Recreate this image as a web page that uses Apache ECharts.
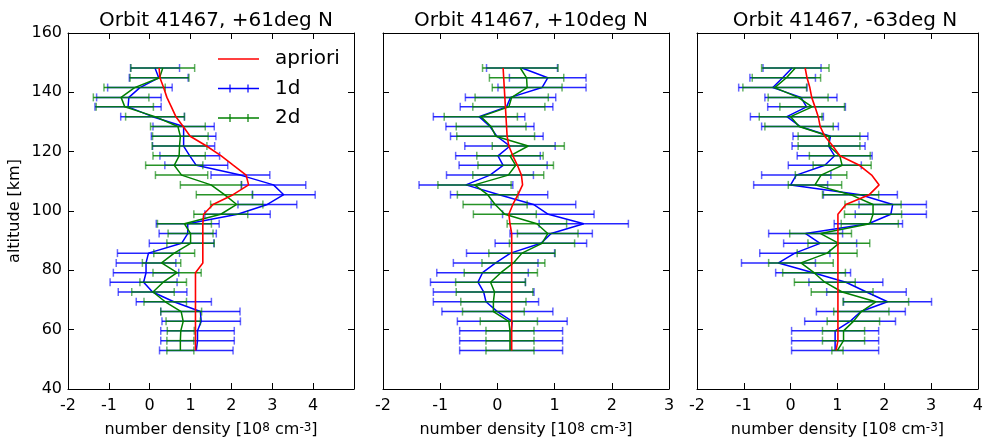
<!DOCTYPE html>
<html>
<head>
<meta charset="utf-8">
<script src="https://cdn.jsdelivr.net/npm/echarts@6/dist/echarts.min.js"></script>
<style>
html,body{margin:0;padding:0;background:#fff;}
#chart{width:986px;height:443px;}
</style>
</head>
<body>
<div id="chart"></div>
<script>
// Altitudes [km], bottom to top
const ALT = [53.0, 56.3, 59.6, 62.8, 66.1, 69.4, 72.7, 76.0, 79.2, 82.5, 85.8, 89.1, 92.4, 95.7, 98.9,
             102.2, 105.5, 108.8, 112.1, 115.4, 118.6, 121.9, 125.2, 128.5, 131.8, 135.1, 138.3, 141.6, 144.9, 148.2];

const TITLES = ['Orbit 41467, +61deg N', 'Orbit 41467, +10deg N', 'Orbit 41467, -63deg N'];
const X_MIN = [-2, -2, -2];
const X_MAX = [5, 3, 4];
const Y_TICKS = [40, 60, 80, 100, 120, 140, 160];
const LEGEND_NAMES = ['apriori', '1d', '2d'];

// Panel 1 (+61deg N)
const P1_APRIORI = [1.12, 1.12, 1.12, 1.12, 1.12, 1.12, 1.12, 1.12, 1.12, 1.3, 1.3, 1.3, 1.3, 1.3, 1.32,
                    1.55, 2.04, 2.42, 2.36, 2.05, 1.75, 1.39, 0.99, 0.82, 0.64, 0.53, 0.42, 0.34, 0.25, 0.23];
const P1_1D = [1.14, 1.17, 1.17, 1.26, 1.24, 0.59, 0.07, -0.15, -0.09, -0.09, -0.03, 0.78, 0.93, 0.93, 2.15,
               2.88, 3.28, 3.03, 2.22, 1.14, 0.98, 0.83, 0.83, 0.83, 0.07, -0.53, -0.51, -0.24, 0.22, 0.13];
const P1_1D_ERR = [0.9, 0.9, 0.9, 0.96, 0.97, 0.92, 0.84, 0.82, 0.8, 0.73, 0.76, 0.79, 0.7, 0.77, 0.8,
                   0.72, 0.77, 0.79, 0.72, 0.77, 0.73, 0.76, 0.79, 0.75, 0.78, 0.81, 0.79, 0.79, 0.72, 0.6];
const P1_2D = [0.75, 0.75, 0.76, 0.82, 0.77, 0.38, 0.08, 0.33, 0.67, 0.29, 0.6, 1.0, 1.0, 0.85, 1.74,
               2.13, 1.83, 1.5, 0.78, 0.6, 0.72, 0.73, 0.75, 0.69, 0.13, -0.61, -0.70, -0.37, 0.24, 0.32];
const P1_2D_ERR = [0.33, 0.33, 0.33, 0.42, 0.5, 0.52, 0.52, 0.57, 0.59, 0.47, 0.5, 0.58, 0.55, 0.66, 0.66,
                   0.64, 0.69, 0.75, 0.64, 0.7, 0.64, 0.67, 0.68, 0.67, 0.72, 0.7, 0.68, 0.75, 0.72, 0.78];

// Panel 2 (+10deg N)
const P2_APRIORI = [0.25, 0.25, 0.25, 0.25, 0.25, 0.25, 0.25, 0.25, 0.25, 0.25, 0.25, 0.25, 0.25, 0.22, 0.2,
                    0.27, 0.36, 0.44, 0.42, 0.35, 0.27, 0.2, 0.17, 0.16, 0.15, 0.14, 0.13, 0.12, 0.11, 0.1];
const P2_1D = [0.24, 0.24, 0.24, 0.26, 0.0, -0.2, -0.24, -0.34, -0.26, -0.03, 0.23, 0.76, 0.94, 1.51, 0.89,
               0.63, 0.03, -0.55, -0.13, 0.1, 0.01, 0.22, -0.01, -0.13, -0.32, 0.16, 0.23, 0.78, 0.88, 0.43];
const P2_1D_ERR = [0.9, 0.9, 0.9, 0.96, 0.97, 0.92, 0.88, 0.83, 0.8, 0.74, 0.77, 0.8, 0.72, 0.78, 0.8,
                   0.74, 0.85, 0.82, 0.76, 0.77, 0.74, 0.79, 0.81, 0.77, 0.8, 0.81, 0.79, 0.77, 0.67, 0.62];
const P2_2D = [0.22, 0.22, 0.22, 0.2, -0.07, -0.07, -0.05, -0.12, 0.06, 0.28, 0.43, 0.78, 0.88, 0.69, 0.13,
               -0.04, -0.17, -0.4, 0.19, 0.32, 0.22, 0.54, -0.03, -0.11, -0.29, 0.2, 0.25, 0.52, 0.51, 0.40];
const P2_2D_ERR = [0.42, 0.42, 0.42, 0.5, 0.54, 0.57, 0.67, 0.61, 0.64, 0.55, 0.58, 0.57, 0.53, 0.52, 0.55,
                   0.56, 0.53, 0.64, 0.62, 0.66, 0.58, 0.63, 0.68, 0.61, 0.64, 0.63, 0.64, 0.61, 0.65, 0.66];

// Panel 3 (-63deg N)
const P3_APRIORI = [0.97, 1.01, 1.01, 1.01, 1.01, 1.01, 1.01, 1.01, 1.01, 1.01, 1.01, 1.01, 1.01, 1.01, 1.01,
                    1.18, 1.68, 1.89, 1.73, 1.47, 1.05, 0.9, 0.73, 0.63, 0.59, 0.52, 0.45, 0.41, 0.35, 0.31];
const P3_1D = [0.95, 0.95, 0.95, 1.27, 1.5, 2.07, 1.62, 1.18, 0.48, -0.26, 0.09, 0.63, 0.32, 1.66, 2.14,
               2.18, 1.49, 0.0, 0.12, 0.73, 0.94, 0.81, 0.85, 0.2, -0.08, 0.34, 0.22, -0.38, -0.17, 0.03];
const P3_1D_ERR = [0.93, 0.93, 0.93, 0.97, 0.95, 0.94, 0.85, 0.79, 0.8, 0.79, 0.75, 0.78, 0.79, 0.73, 0.76,
                   0.72, 0.79, 0.79, 0.74, 0.78, 0.8, 0.78, 0.8, 0.82, 0.78, 0.83, 0.77, 0.73, 0.7, 0.62];
const P3_2D = [1.0, 1.13, 1.13, 1.34, 1.51, 1.82, 1.1, 0.73, 0.5, 0.22, 0.78, 1.03, 0.64, 1.69, 1.76,
               1.76, 1.28, 0.52, 0.65, 1.1, 1.05, 0.82, 0.82, 0.18, 0.0, 0.46, 0.16, -0.34, -0.09, 0.1];
const P3_2D_ERR = [0.12, 0.45, 0.45, 0.56, 0.59, 0.7, 0.66, 0.65, 0.67, 0.69, 0.64, 0.66, 0.66, 0.61, 0.61,
                   0.6, 0.6, 0.57, 0.55, 0.62, 0.65, 0.66, 0.66, 0.73, 0.67, 0.69, 0.64, 0.68, 0.73, 0.72];

const PANELS = [
  {apriori: P1_APRIORI, d1: P1_1D, d1e: P1_1D_ERR, d2: P1_2D, d2e: P1_2D_ERR},
  {apriori: P2_APRIORI, d1: P2_1D, d1e: P2_1D_ERR, d2: P2_2D, d2e: P2_2D_ERR},
  {apriori: P3_APRIORI, d1: P3_1D, d1e: P3_1D_ERR, d2: P3_2D, d2e: P3_2D_ERR}
];

const RED = '#ff0000', BLUE = '#0000ff', GREEN = '#008000';
const FONT = 'DejaVu Sans';
const GRID_LEFT = [68, 383, 697];
const GRID_W = 286, GRID_TOP = 33, GRID_H = 360;

function errRender(color) {
  return function (params, api) {
    const lo = api.coord([api.value(0), api.value(2)]);
    const hi = api.coord([api.value(1), api.value(2)]);
    const h = 4;
    return {
      type: 'group',
      children: [
        {type: 'line', shape: {x1: lo[0], y1: lo[1], x2: hi[0], y2: hi[1]},
         style: {stroke: color, lineWidth: 1.5, opacity: 0.85}},
        {type: 'line', shape: {x1: lo[0], y1: lo[1] - h, x2: lo[0], y2: lo[1] + h},
         style: {stroke: color, lineWidth: 1.5, opacity: 0.6}},
        {type: 'line', shape: {x1: hi[0], y1: hi[1] - h, x2: hi[0], y2: hi[1] + h},
         style: {stroke: color, lineWidth: 1.5, opacity: 0.6}}
      ]
    };
  };
}

const grids = [], xAxes = [], yAxes = [], series = [], titles = [];
PANELS.forEach((p, i) => {
  grids.push({left: GRID_LEFT[i], top: GRID_TOP, width: GRID_W, height: GRID_H, show: false});
  titles.push({
    text: TITLES[i], left: GRID_LEFT[i] + GRID_W / 2, top: 6, textAlign: 'center',
    textStyle: {fontFamily: FONT, fontSize: 20, fontWeight: 'normal', color: '#000'}
  });
  const axLine = {show: true, onZero: false, lineStyle: {color: '#000', width: 1}};
  const tick = {show: true, inside: true, length: 6, lineStyle: {color: '#000', width: 1}};
  xAxes.push({
    type: 'value', gridIndex: i, position: 'bottom', min: X_MIN[i], max: X_MAX[i], interval: 1,
    axisLine: axLine, axisTick: tick, splitLine: {show: false},
    axisLabel: {show: true, margin: 9, color: '#000', fontFamily: FONT, fontSize: 16,
                formatter: v => (i === 0 && v === 5) ? '' : String(v)},
    name: 'number density [10{sup|8} cm{sup|-3}]', nameLocation: 'middle', nameGap: 33,
    nameTextStyle: {fontFamily: FONT, fontSize: 16, color: '#000',
      rich: {sup: {fontFamily: FONT, fontSize: 12, color: '#000', verticalAlign: 'top', padding: [0, 0, 4, 0]}}}
  });
  xAxes.push({
    type: 'value', gridIndex: i, position: 'top', min: X_MIN[i], max: X_MAX[i], interval: 1,
    axisLine: axLine, axisTick: tick, splitLine: {show: false}, axisLabel: {show: false}
  });
  yAxes.push({
    type: 'value', gridIndex: i, position: 'left', min: Y_TICKS[0], max: Y_TICKS[Y_TICKS.length - 1], interval: 20,
    axisLine: axLine, axisTick: tick, splitLine: {show: false},
    axisLabel: {show: i === 0, margin: 6, color: '#000', fontFamily: FONT, fontSize: 16},
    name: i === 0 ? 'altitude [km]' : '', nameLocation: 'middle', nameGap: 45, nameRotate: 90,
    nameTextStyle: {fontFamily: FONT, fontSize: 16, color: '#000'}
  });
  yAxes.push({
    type: 'value', gridIndex: i, position: 'right', min: Y_TICKS[0], max: Y_TICKS[Y_TICKS.length - 1], interval: 20,
    axisLine: axLine, axisTick: tick, splitLine: {show: false}, axisLabel: {show: false}
  });
  const xi = 2 * i, yi = 2 * i;
  series.push({
    name: '1d err', type: 'custom', xAxisIndex: xi, yAxisIndex: yi, z: 2, silent: true,
    renderItem: errRender(BLUE), encode: {x: [0, 1], y: 2},
    data: ALT.map((a, k) => [p.d1[k] - p.d1e[k], p.d1[k] + p.d1e[k], a])
  });
  series.push({
    name: '1d', type: 'line', xAxisIndex: xi, yAxisIndex: yi, z: 3, symbol: 'none', silent: true,
    lineStyle: {color: BLUE, width: 1.5}, itemStyle: {color: BLUE},
    data: ALT.map((a, k) => [p.d1[k], a])
  });
  series.push({
    name: '2d err', type: 'custom', xAxisIndex: xi, yAxisIndex: yi, z: 4, silent: true,
    renderItem: errRender(GREEN), encode: {x: [0, 1], y: 2},
    data: ALT.map((a, k) => [p.d2[k] - p.d2e[k], p.d2[k] + p.d2e[k], a])
  });
  series.push({
    name: '2d', type: 'line', xAxisIndex: xi, yAxisIndex: yi, z: 5, symbol: 'none', silent: true,
    lineStyle: {color: GREEN, width: 1.5}, itemStyle: {color: GREEN},
    data: ALT.map((a, k) => [p.d2[k], a])
  });
  series.push({
    name: 'apriori', type: 'line', xAxisIndex: xi, yAxisIndex: yi, z: 6, symbol: 'none', silent: true,
    lineStyle: {color: RED, width: 1.6}, itemStyle: {color: RED},
    data: ALT.map((a, k) => [p.apriori[k], a])
  });
});

// Legend (layout only) drawn in the first panel
const LEG_X0 = 218, LEG_X1 = 259, LEG_TX = 275, LEG_Y = [59, 88.5, 118];
const LEG_COLORS = [RED, BLUE, GREEN];
const legendEls = [];
LEGEND_NAMES.forEach((n, k) => {
  const y = LEG_Y[k], c = LEG_COLORS[k];
  legendEls.push({type: 'line', shape: {x1: LEG_X0, y1: y, x2: LEG_X1, y2: y}, style: {stroke: c, lineWidth: 1.6}, z: 10});
  if (k > 0) {
    [230, 248].forEach(tx => legendEls.push({type: 'line', shape: {x1: tx, y1: y - 4, x2: tx, y2: y + 4},
      style: {stroke: c, lineWidth: 1.5, opacity: 0.8}, z: 10}));
  }
  legendEls.push({type: 'text', x: LEG_TX, y: y, z: 10,
    style: {text: n, fontFamily: FONT, fontSize: 20, fill: '#000', verticalAlign: 'middle', align: 'left'}});
});

const chart = echarts.init(document.getElementById('chart'), null, {renderer: 'canvas'});
chart.setOption({
  animation: false,
  backgroundColor: '#fff',
  title: titles,
  grid: grids,
  xAxis: xAxes,
  yAxis: yAxes,
  series: series,
  graphic: legendEls
});
</script>
</body>
</html>
